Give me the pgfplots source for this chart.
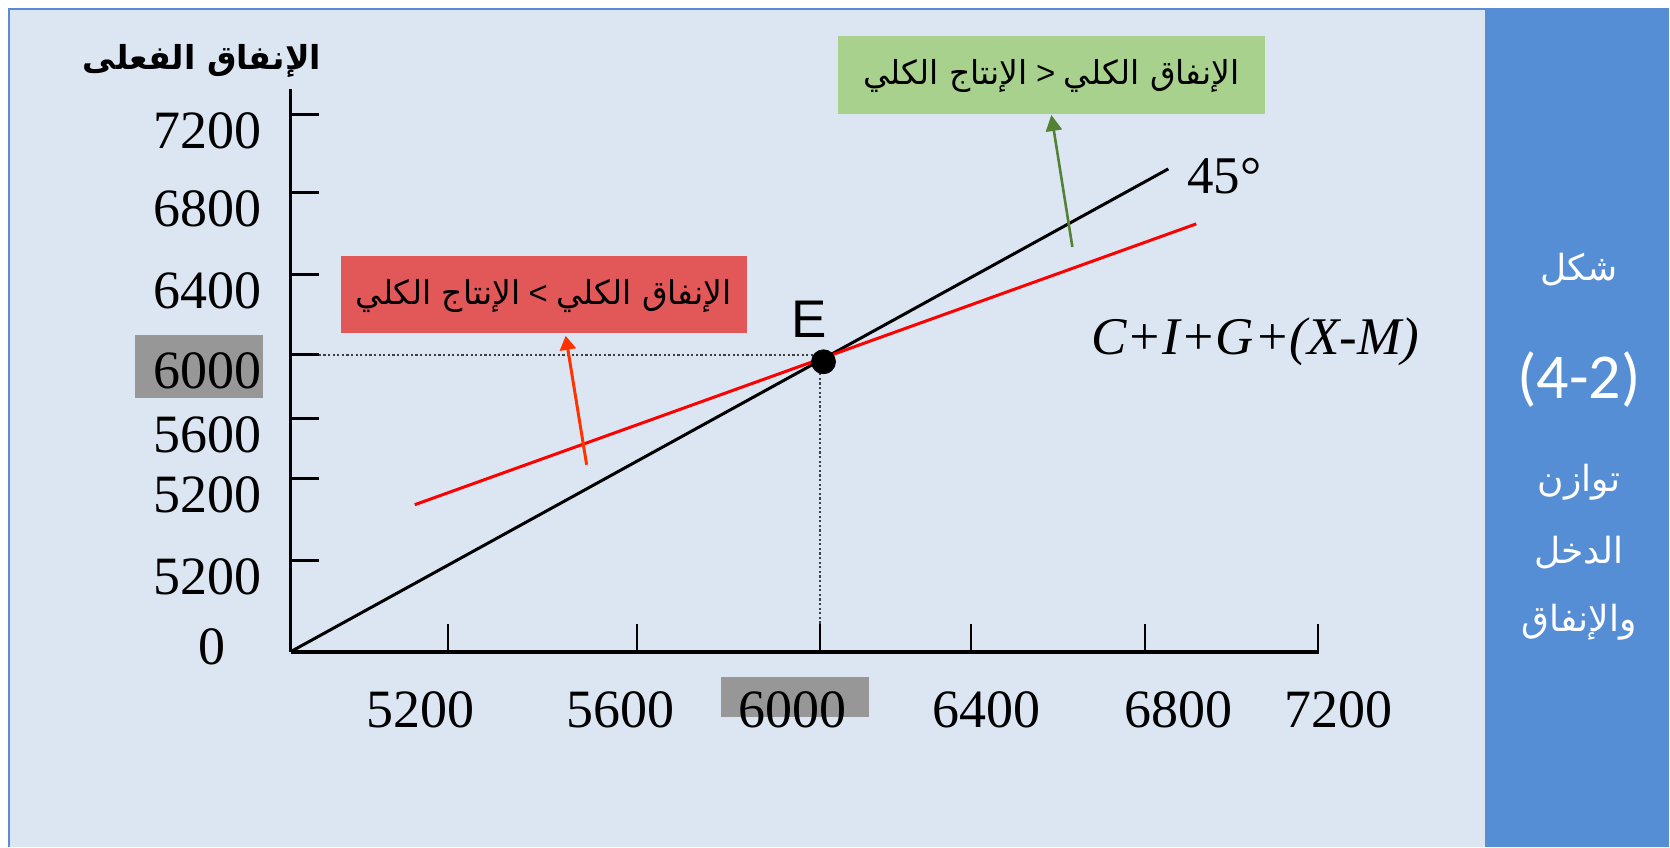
\documentclass[border=0pt]{standalone}
\usepackage{fontspec}
\setmainfont{Liberation Serif}
\newfontfamily\arabicfont[Script=Arabic]{DejaVu Sans}
\newfontfamily\lsans{Liberation Sans}
\newfontfamily\calibri{Carlito}
\usepackage{pgfplots}
\pgfplotsset{compat=1.18}
\usetikzlibrary{arrows.meta}
\TeXXeTstate=1
\definecolor{panel}{HTML}{DCE6F2}
\definecolor{frame}{HTML}{5B8BD0}
\definecolor{column}{HTML}{558ED5}
\definecolor{redbox}{HTML}{E25859}
\definecolor{greenbox}{HTML}{A9D18E}
\definecolor{graybox}{HTML}{979797}
\definecolor{arrgreen}{HTML}{548235}
\definecolor{arrred}{HTML}{FF3300}
\newcommand\AR[1]{{\arabicfont\beginR #1\endR}}
\newcommand\XL[2]{\makebox[0pt]{\hspace*{#1}\textrm{#2}}}
\begin{document}
\begin{tikzpicture}
% background in pixel coordinates (x right, y down), 1px = 0.5pt
\begin{scope}[x=0.5pt,y=-0.5pt,shift={(-145.5pt,326pt)}]
  \fill[white] (0,0) rectangle (1670,847);
  \fill[panel] (9,9) rectangle (1670,847);
  \fill[column] (1486,10) rectangle (1670,847);
  \draw[frame,line width=1pt] (9,847) -- (9,9) -- (1670,9);
  \fill[graybox] (135,335) rectangle (263,398);
  \fill[graybox] (721,677) rectangle (870,717);
  \fill[redbox] (341,256) rectangle (747,333);
  \fill[greenbox] (838,36) rectangle (1266,114);
\end{scope}
\begin{axis}[
  scale only axis,
  width=514.5pt, height=281.5pt,
  xmin=0, xmax=1029, ymin=0, ymax=563,
  enlargelimits=false,
  clip=false,
  axis x line=bottom, axis y line=left,
  axis line style={-},
  x axis line style={line width=2pt},
  y axis line style={line width=1.5pt},
  tick align=inside,
  major tick length=14pt,
  xtick style={black,line width=1pt},
  ytick style={black,line width=1.5pt},
  xtick={157,346,529,681,855,1028},
  xticklabels={\XL{-27pt}{5200},\XL{-16pt}{5600},\XL{-27pt}{6000},\XL{15pt}{6400},\XL{33pt}{6800},\XL{20pt}{7200}},
  ytick={91,173,233,297,377,459,537},
  yticklabels={\textrm{5200},\textrm{5200},\textrm{5600},\textrm{6000},\textrm{6400},\textrm{6800},\textrm{7200}},
  tick label style={font=\fontsize{27}{27}\selectfont, inner sep=0pt},
  xticklabel style={anchor=north, yshift=-20pt},
  yticklabel style={anchor=east, xshift=-14.5pt, yshift=-8pt},
  extra y ticks={21},
  extra y tick labels={\textrm{0}},
  extra y tick style={major tick length=0pt, yticklabel style={xshift=-18pt}},
]
% 45 degree line
\addplot[black, line width=1.5pt] coordinates {(0,0) (878,483)};
% aggregate expenditure C+I+G+(X-M)
\addplot[red, line width=1.5pt] coordinates {(124,147) (906,428)};
% dotted guides
\addplot[black!75, line width=1pt, dash pattern=on 1.1pt off 1.2pt] coordinates {(28,297) (533,297)};
\addplot[black!75, line width=1pt, dash pattern=on 1.1pt off 1.2pt] coordinates {(529,28) (529,290)};
% arrows
\addplot[arrred, line width=1.5pt, -{Triangle[length=7pt,width=8pt]}] coordinates {(296,187) (275,316)};
\addplot[arrgreen, line width=1.3pt, -{Triangle[length=8pt,width=8pt]}] coordinates {(782,405) (761,537)};
% equilibrium point
\addplot[only marks, mark=*, mark size=6pt, black] coordinates {(533,290)};
\end{axis}
\begin{scope}[x=0.5pt,y=-0.5pt,shift={(-145.5pt,326pt)}]
  \node[inner sep=0pt] at (202,61) {\fontsize{16.5}{16.5}\selectfont\bfseries\AR{الإنفاق الفعلى}};
  \node[inner sep=0pt] at (544,296) {\fontsize{16.5}{16.5}\selectfont\AR{الإنتاج الكلي}\ {\lsans <}\ \AR{الإنفاق الكلي}};
  \node[inner sep=0pt] at (1052,76) {\fontsize{16.5}{16.5}\selectfont\AR{الإنتاج الكلي}\ {\lsans >}\ \AR{الإنفاق الكلي}};
  \node[inner sep=0pt] at (810,319) {\fontsize{26.5}{26.5}\selectfont\lsans E};
  \node[inner sep=0pt] at (1225,176) {\fontsize{26.5}{26.5}\selectfont 45°};
  \node[inner sep=0pt] at (1256,342) {\fontsize{26.5}{26.5}\selectfont\itshape C+I+G+(X-M)};
  \node[inner sep=0pt, white] at (1580,270) {\fontsize{18}{18}\selectfont\AR{شكل}};
  \node[inner sep=0pt, white] at (1580,380) {\fontsize{32}{32}\selectfont\calibri (4-2)};
  \node[inner sep=0pt, white] at (1580,483) {\fontsize{18}{18}\selectfont\AR{توازن}};
  \node[inner sep=0pt, white] at (1580,553) {\fontsize{18}{18}\selectfont\AR{الدخل}};
  \node[inner sep=0pt, white] at (1580,623) {\fontsize{18}{18}\selectfont\AR{والإنفاق}};
\end{scope}
\end{tikzpicture}
\end{document}
